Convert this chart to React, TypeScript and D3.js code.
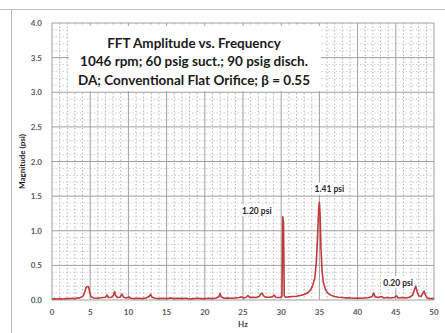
import React from "react";
import * as d3 from "d3";

// FFT spectrum: [frequency (Hz), magnitude (psi)]
const spectrum: [number, number][] = [
  [0.0, 0.01], [0.3, 0.02], [0.6, 0.015], [1.0, 0.02], [1.4, 0.015], [1.8, 0.02],
  [2.2, 0.02], [2.6, 0.025], [3.0, 0.02], [3.3, 0.03], [3.6, 0.03], [3.9, 0.045],
  [4.1, 0.06], [4.3, 0.12], [4.45, 0.18], [4.6, 0.195], [4.8, 0.19], [4.95, 0.1],
  [5.1, 0.05], [5.4, 0.03], [5.8, 0.025], [6.2, 0.03], [6.6, 0.035], [7.0, 0.04],
  [7.2, 0.075], [7.4, 0.035], [7.8, 0.04], [8.05, 0.07], [8.2, 0.12], [8.35, 0.06],
  [8.6, 0.035], [8.9, 0.04], [9.15, 0.085], [9.35, 0.04], [9.7, 0.03], [10.05, 0.045],
  [10.3, 0.025], [10.8, 0.02], [11.3, 0.025], [11.8, 0.02], [12.3, 0.03], [12.7, 0.05],
  [12.9, 0.08], [13.1, 0.04], [13.5, 0.025], [14.0, 0.02], [14.5, 0.025], [15.0, 0.02],
  [15.5, 0.03], [16.0, 0.02], [16.5, 0.025], [17.0, 0.02], [17.5, 0.025], [18.0, 0.015],
  [18.5, 0.02], [19.0, 0.025], [19.5, 0.02], [20.0, 0.02], [20.5, 0.025], [21.0, 0.02],
  [21.5, 0.03], [21.85, 0.05], [22.0, 0.095], [22.15, 0.045], [22.5, 0.025], [23.0, 0.03],
  [23.5, 0.025], [24.0, 0.03], [24.5, 0.035], [24.8, 0.045], [25.1, 0.03], [25.4, 0.04],
  [25.65, 0.065], [25.9, 0.035], [26.3, 0.04], [26.7, 0.035], [27.1, 0.05], [27.35, 0.09],
  [27.5, 0.1], [27.7, 0.06], [28.0, 0.04], [28.4, 0.04], [28.8, 0.045], [29.1, 0.07],
  [29.3, 0.04], [29.6, 0.035], [29.9, 0.04], [30.1, 0.05], [30.2, 1.2], [30.3, 1.12],
  [30.4, 0.06], [30.6, 0.04], [31.0, 0.045], [31.5, 0.05], [32.0, 0.055], [32.5, 0.065],
  [33.0, 0.08], [33.4, 0.1], [33.8, 0.14], [34.1, 0.2], [34.4, 0.32], [34.6, 0.55],
  [34.75, 0.9], [34.9, 1.3], [35.0, 1.41], [35.1, 1.2], [35.2, 0.75], [35.35, 0.42],
  [35.5, 0.26], [35.8, 0.15], [36.1, 0.1], [36.5, 0.07], [37.0, 0.05], [37.5, 0.04],
  [38.0, 0.035], [38.5, 0.03], [39.0, 0.03], [39.5, 0.025], [40.0, 0.03], [40.5, 0.025],
  [41.0, 0.03], [41.5, 0.035], [41.9, 0.05], [42.1, 0.1], [42.3, 0.045], [42.7, 0.035],
  [43.1, 0.05], [43.4, 0.03], [43.8, 0.035], [44.3, 0.03], [44.8, 0.035], [45.1, 0.06],
  [45.3, 0.03], [45.8, 0.035], [46.3, 0.03], [46.8, 0.04], [47.2, 0.07], [47.45, 0.15],
  [47.6, 0.2], [47.8, 0.12], [48.0, 0.06], [48.3, 0.05], [48.55, 0.1], [48.7, 0.13],
  [48.85, 0.08], [49.1, 0.03], [49.5, 0.02], [50.0, 0.02],
];

const xTicks = [0, 5, 10, 15, 20, 25, 30, 35, 40, 45, 50];
const yTicks = [0, 0.5, 1.0, 1.5, 2.0, 2.5, 3.0, 3.5, 4.0];
const xMinor = d3.range(0, 51, 1);
const yMinor = d3.range(0, 41, 1).map((v) => v / 10);

const titleLines = [
  "FFT Amplitude vs. Frequency",
  "1046 rpm; 60 psig suct.; 90 psig disch.",
  "DA; Conventional Flat Orifice; \u03B2 = 0.55",
];

// Peak call-outs: text, value of the peak, and where the label sits
const peakLabels = [
  { text: "1.20 psi", hz: 30.2, psi: 1.2, lx: 26.8, ly: 1.29 },
  { text: "1.41 psi", hz: 35.0, psi: 1.41, lx: 36.3, ly: 1.6 },
  { text: "0.20 psi", hz: 47.6, psi: 0.2, lx: 45.3, ly: 0.25 },
];

const W = 445;
const H = 333;
const plot = { left: 52, right: 434, top: 23, bottom: 300 };
const font = "Lato, 'Open Sans', sans-serif";

export default function App() {
  const x = d3.scaleLinear().domain([0, 50]).range([plot.left, plot.right]);
  const y = d3.scaleLinear().domain([0, 4]).range([plot.bottom, plot.top]);
  const line = d3
    .line<[number, number]>()
    .x((d) => x(d[0]))
    .y((d) => y(d[1]));

  return (
    <svg
      width={W}
      height={H}
      style={{ position: "absolute", left: 0, top: 0, background: "#fff" }}
      fontFamily={font}
    >
      <rect x={0} y={0} width={W} height={H} fill="#fff" />
      {/* chart frame */}
      <line x1={0} x2={W} y1={9.5} y2={9.5} stroke="#bfbfbf" />
      <line x1={11.5} x2={11.5} y1={9.5} y2={H} stroke="#bfbfbf" />

      {/* minor grid */}
      {xMinor
        .filter((v) => v % 5 !== 0)
        .map((v) => (
          <line
            key={"xm" + v}
            x1={x(v)}
            x2={x(v)}
            y1={plot.top}
            y2={plot.bottom}
            stroke="#b4b4b4"
            strokeWidth={1}
            strokeDasharray="1.5,2"
          />
        ))}
      {yMinor
        .filter((v) => Math.round(v * 10) % 5 !== 0)
        .map((v) => (
          <line
            key={"ym" + v}
            x1={plot.left}
            x2={plot.right}
            y1={y(v)}
            y2={y(v)}
            stroke="#c4c4c4"
            strokeWidth={0.8}
            strokeDasharray="1.5,2"
          />
        ))}
      {/* major grid */}
      {xTicks.map((v) => (
        <line
          key={"xg" + v}
          x1={x(v)}
          x2={x(v)}
          y1={plot.top}
          y2={plot.bottom}
          stroke="#a0a0a0"
          strokeWidth={1}
        />
      ))}
      {yTicks.map((v) => (
        <line
          key={"yg" + v}
          x1={plot.left}
          x2={plot.right}
          y1={y(v)}
          y2={y(v)}
          stroke="#a0a0a0"
          strokeWidth={1}
        />
      ))}

      {/* title box */}
      <rect x={69} y={26} width={252} height={65} fill="#fff" />
      {titleLines.map((t, i) => (
        <text
          key={t}
          x={194}
          y={47.5 + i * 18.5}
          textAnchor="middle"
          fontSize={13.5}
          fontWeight="bold"
          fill="#1a1a1a"
        >
          {t}
        </text>
      ))}

      {/* peak labels */}
      {peakLabels.map((p) => (
        <g key={p.text}>
          <rect
            x={x(p.lx) - 17}
            y={y(p.ly) - 6.5}
            width={34}
            height={12}
            fill="#fff"
          />
          <text
            x={x(p.lx)}
            y={y(p.ly) + 3}
            textAnchor="middle"
            fontSize={8.5}
            fontWeight="bold"
            fill="#262626"
          >
            {p.text}
          </text>
        </g>
      ))}

      {/* spectrum */}
      <path
        d={line(spectrum) ?? ""}
        fill="none"
        stroke="#c0393b"
        strokeWidth={1.6}
        strokeLinejoin="round"
      />

      {/* axes labels */}
      {yTicks.map((v) => (
        <text
          key={"yl" + v}
          x={42}
          y={y(v) + 3}
          textAnchor="end"
          fontSize={8}
          fontWeight="bold"
          fill="#595959"
        >
          {v.toFixed(1)}
        </text>
      ))}
      {xTicks.map((v) => (
        <text
          key={"xl" + v}
          x={x(v)}
          y={315}
          textAnchor="middle"
          fontSize={8}
          fontWeight="bold"
          fill="#595959"
        >
          {v}
        </text>
      ))}
      <text
        x={243}
        y={327}
        textAnchor="middle"
        fontSize={8}
        fontWeight="bold"
        fill="#404040"
      >
        Hz
      </text>
      <text
        transform={`translate(25, ${(plot.top + plot.bottom) / 2}) rotate(-90)`}
        textAnchor="middle"
        fontSize={8}
        fontWeight="bold"
        fill="#1a1a1a"
      >
        Magnitude (psi)
      </text>
    </svg>
  );
}
